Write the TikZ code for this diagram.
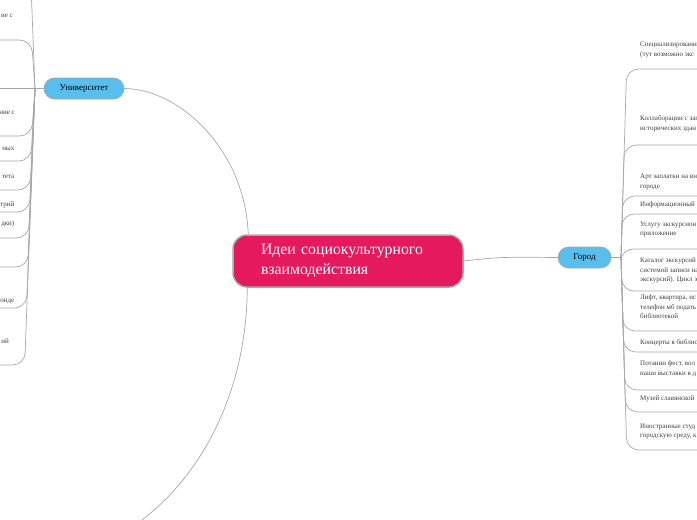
\documentclass[tikz,border=0pt]{standalone}
\usepackage{fontspec}
\setmainfont{Liberation Serif}
\usetikzlibrary{positioning}

\definecolor{ideared}{HTML}{E5195E}
\definecolor{topicblue}{HTML}{57BEEE}
\definecolor{linkgray}{HTML}{A8A8A8}

\begin{document}
\begin{tikzpicture}[
  x=1pt, y=-1pt,
  idea/.style={rectangle, rounded corners=14pt, draw=linkgray, line width=1.5pt,
    fill=ideared, text=white, align=left, text width=174pt, inner xsep=28pt,
    minimum height=52pt, font=\fontsize{15.8}{20}\selectfont},
  topic/.style={rectangle, rounded corners=10.5pt, draw=linkgray, line width=0.7pt,
    fill=topicblue, minimum height=21pt, inner sep=0pt,
    font=\fontsize{9}{10}\selectfont},
  leaf/.style={align=left, inner sep=0pt, text=black!75,
    font=\fontsize{7}{9.7}\selectfont},
  link/.style={draw=linkgray, line width=0.7pt},
  branch/.style={link, rounded corners=12pt}
  ]

  \useasboundingbox (0,0) rectangle (697,520);
  \clip (0,0) rectangle (697,520);

  % main topic and the two branches
  \node (idea) [idea] at (348,261) {Идеи социокультурного\\взаимодействия};
  \node (uni) [topic, minimum width=80pt] at (84,88.5) {Университет};
  \node (city) [topic, minimum width=53pt, right=94pt of idea, yshift=3.5pt] {Город};

  \coordinate (lowend) at (138,523);
  \path [link] (uni.east) .. controls (180,89) and (245,150) .. ([xshift=16pt]idea.north west);
  \path [link] ([xshift=15pt]idea.south west) .. controls (247,380) and (210,470) .. (lowend);
  \path [link] (idea.east) .. controls (500,257) .. (city.west);

  % university side
  \coordinate (ujoint) at (35,88.5);
  \path [link] (uni.west) -- (ujoint);
  \path [branch] (ujoint) -- (30,-40) -- (-5,-40);
  \path [branch] (ujoint) -- (31.5,40) -- (-5,40);
  \path [link] (ujoint) -- (-5,88.5);
  \path [branch] (ujoint) -- (31.6,136) -- (-5,136);
  \path [branch] (ujoint) -- (30.8,161) -- (-5,161);
  \path [branch] (ujoint) -- (30,190) -- (-5,190);
  \path [branch] (ujoint) -- (29.3,212) -- (-5,212);
  \path [branch] (ujoint) -- (28.5,238) -- (-5,238);
  \path [branch] (ujoint) -- (27.7,267) -- (-5,267);
  \path [branch] (ujoint) -- (26.4,308) -- (-5,308);
  \path [branch] (ujoint) -- (24.7,365) -- (-5,365);

  \node (uwith) [leaf, anchor=base east] at (13,17) {ие с};
  \node (uwith2) [leaf, anchor=base east] at (15,114) {ние с};
  \node (udata) [leaf, anchor=base east] at (14.5,150) {ных};
  \node (usite) [leaf, anchor=base east] at (14.5,178) {тета};
  \node (umetric) [leaf, anchor=base east] at (14.5,206) {трий};
  \node (ubrack) [leaf, anchor=base east] at (14.5,225) {дки)};
  \node (ufund) [leaf, anchor=base east] at (14.5,302) {онде};
  \node (ulast) [leaf, anchor=base east] at (9,343) {ий};

  % city side
  \coordinate (cjoint) at (621,257.5);
  \path [link] (city.east) -- (cjoint);
  \path [branch] (cjoint) -- (626.6,69) -- (702,69);
  \path [branch] (cjoint) -- (624.4,145) -- (702,145);
  \path [branch] (cjoint) -- (622.8,196) -- (702,196);
  \path [branch] (cjoint) -- (622.3,214) -- (702,214);
  \path [branch] (cjoint) -- (621.2,249) -- (702,249);
  \path [branch] (cjoint) -- (622,291) -- (702,291);
  \path [branch] (cjoint) -- (623.2,331) -- (702,331);
  \path [branch] (cjoint) -- (623.9,352) -- (702,352);
  \path [branch] (cjoint) -- (625,390) -- (702,390);
  \path [branch] (cjoint) -- (625.6,412) -- (702,412);
  \path [branch] (cjoint) -- (626.8,450) -- (702,450);

  \node (spec) [leaf, anchor=north west] at (640,41.5) {Специализировани\\(тут возможно экс};
  \node (collab) [leaf, anchor=north west] at (640,115.5) {Коллаборации с заг\\исторических здан};
  \node (art) [leaf, anchor=north west] at (640,173.5) {Арт заплатки на вн\\городе};
  \node (info) [leaf, anchor=north west] at (640,201.5) {Информационный};
  \node (tour) [leaf, anchor=north west] at (640,221.5) {Услугу экскурсион\\приложение};
  \node (catalog) [leaf, anchor=north west] at (640,257.5) {Каталог экскурсий\\системой записи на\\экскурсий). Цикл э};
  \node (lift) [leaf, anchor=north west] at (640,294.5) {Лифт, квартира, ис\\телефон мб подать\\библиотекой};
  \node (concert) [leaf, anchor=north west] at (640,339.5) {Концерты в библио};
  \node (potanin) [leaf, anchor=north west] at (640,360.5) {Потанин фест, вол\\наши выставки в д};
  \node (museum) [leaf, anchor=north west] at (640,395.5) {Музей славянской};
  \node (foreign) [leaf, anchor=north west] at (640,423.5) {Иностранные студ\\городскую среду, к};
\end{tikzpicture}
\end{document}
